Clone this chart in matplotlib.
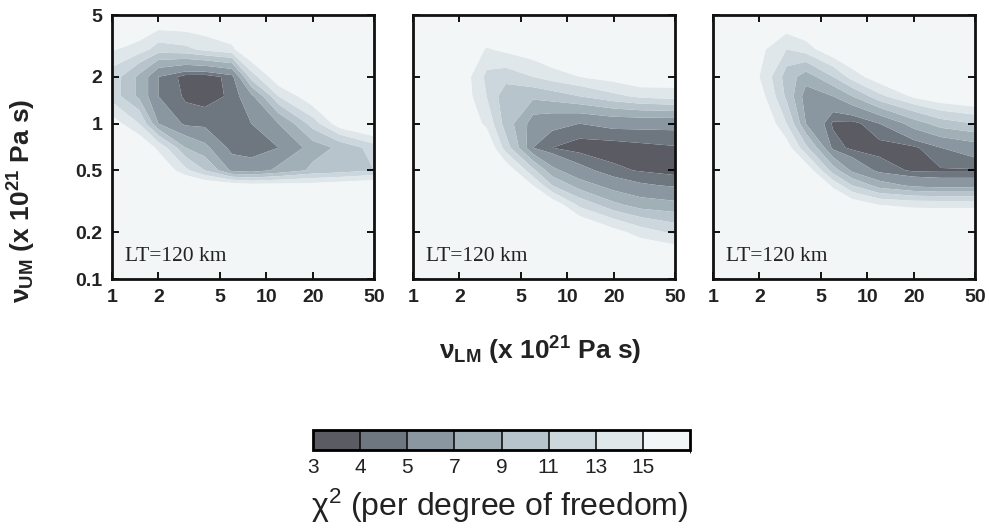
import numpy as np
import matplotlib
matplotlib.use("Agg")
import matplotlib.pyplot as plt
from matplotlib.colors import ListedColormap, BoundaryNorm

plt.rcParams['font.family'] = ['Liberation Sans', 'DejaVu Sans']
plt.rcParams['mathtext.fontset'] = 'custom'
plt.rcParams['mathtext.rm'] = 'Liberation Sans'
plt.rcParams['mathtext.bf'] = 'Liberation Sans:bold'
plt.rcParams['mathtext.it'] = 'Liberation Sans:italic'

# grid nodes (x 10^21 Pa s)
nu_lm = [1, 1.5, 2, 3, 4, 6, 8, 12, 20, 30, 50]
nu_um = [0.1, 0.2, 0.3, 0.4, 0.5, 0.7, 1.0, 1.5, 2.0, 3.0, 5.0]

# chi^2 per degree of freedom, rows = nu_um (bottom->top), cols = nu_lm
chi2_a = [
    [28, 28, 27, 26, 26, 25, 25, 25, 26, 27, 28],
    [26, 26, 25, 24, 23, 22, 22, 22, 23, 24, 25],
    [25, 24, 23, 21, 20, 19, 19, 19, 19, 20, 21],
    [24, 22, 20, 18, 17, 16.5, 16, 16, 16, 16.5, 17],
    [22, 20, 17, 13.5, 11, 6.5, 6, 7.5, 9.5, 10, 11],
    [20, 17, 14.5, 9, 7.5, 4.3, 4.1, 5, 8, 9.5, 12],
    [16, 13, 7, 4.6, 4.5, 4.4, 5, 7, 12, 16.5, 19],
    [12, 8.5, 5, 3.8, 3.6, 4.2, 6.5, 13, 17, 20, 22],
    [12, 8.5, 5, 3.5, 3.4, 4.5, 12, 17, 20, 22, 24],
    [15.2, 14, 12, 12.5, 13.5, 14.5, 18, 20, 22, 24, 25],
    [19, 19, 18, 18, 18, 19, 20, 22, 24, 25, 25],
]
chi2_b = [
    [26, 26, 25, 25, 24, 23, 22, 21, 20, 20, 20],
    [25, 25, 24, 23, 22, 21, 20, 18, 15.8, 14, 12.5],
    [24, 24, 23, 21, 19.5, 18, 16.5, 12.5, 9.5, 8, 7.5],
    [23, 23, 22, 20, 18, 15, 11, 8, 6, 5.2, 4.8],
    [22, 22, 21, 19, 16.5, 11.5, 7.5, 5.5, 4.2, 3.9, 3.6],
    [21, 21, 19, 17, 12, 5, 4.0, 3.5, 3.5, 3.7, 3.9],
    [20, 20, 17, 14.5, 10, 6, 5.5, 5.0, 5.5, 5.5, 5.5],
    [19, 19, 16.5, 13, 9.5, 9.5, 10, 11, 12.5, 13.5, 14],
    [19, 19, 16.5, 12.5, 12, 13, 14, 15, 16, 17, 16.5],
    [19, 19, 17, 14.8, 15.5, 16.5, 17.5, 18, 18.5, 19, 19],
    [20, 20, 20, 19, 19, 20, 21, 21, 22, 22, 22],
]
chi2_c = [
    [25, 24, 24, 24, 24, 23, 23, 22, 22, 21, 21],
    [24, 23, 23, 22, 22, 21, 20, 19, 18.5, 18, 18],
    [23, 22, 22, 21, 21, 18, 16.5, 15, 14.5, 14.5, 14.5],
    [22, 21, 21, 20, 19, 14.5, 11, 8, 6.5, 6, 6],
    [21, 20, 20, 19, 16.5, 10, 6.5, 4.5, 3.8, 3.9, 3.9],
    [20, 19, 19, 16, 11.5, 4.5, 3.7, 3.6, 3.8, 5, 6],
    [19, 18, 17.5, 13, 7, 3.8, 3.6, 5, 8, 10, 11],
    [18, 17, 16, 10.5, 6, 7, 9, 12.5, 15.5, 17, 18],
    [18, 17, 15, 10, 8, 11, 14, 16.5, 18, 19, 20],
    [18, 17, 15.5, 13, 14, 17, 18, 20, 21, 22, 23],
    [19, 18, 18, 18, 19, 20, 21, 22, 23, 24, 24],
]
panels = [chi2_a, chi2_b, chi2_c]
panel_label = "LT=120 km"

levels = [3, 4, 5, 7, 9, 11, 13, 15, 40]
cbar_ticks = [3, 4, 5, 7, 9, 11, 13, 15]
colors = ['#5a5b63', '#6e767f', '#8a97a0', '#a1afb7', '#b7c4cb',
          '#ccd7dd', '#dfe7eb', '#f3f6f7']
xticks = [1, 2, 5, 10, 20, 50]
yticks = [0.1, 0.2, 0.5, 1, 2, 5]

cmap = ListedColormap(colors)
norm = BoundaryNorm(levels, cmap.N)

fig = plt.figure(figsize=(9.89, 5.28), dpi=100)
W, H = 989, 528
lefts = [112, 413, 713]
for i, (data, lx) in enumerate(zip(panels, lefts)):
    ax = fig.add_axes([lx / W, 1 - 279 / H, 262 / W, 264 / H])
    ax.set_facecolor(colors[-1])
    X, Y = np.meshgrid(nu_lm, nu_um)
    cs = ax.contourf(X, Y, np.array(data, dtype=float), levels=levels,
                     cmap=cmap, norm=norm, antialiased=True)
    ax.set_xscale('log')
    ax.set_yscale('log')
    ax.set_xlim(1, 50)
    ax.set_ylim(0.1, 5)
    ax.set_xticks(xticks)
    ax.set_xticklabels([str(t) for t in xticks])
    ax.set_yticks(yticks)
    ax.set_yticklabels([('%g' % t) for t in yticks])
    ax.minorticks_off()
    ax.tick_params(direction='in', length=5, width=1.3, top=True, right=True,
                   labelsize=14, pad=7)
    for lab in ax.get_xticklabels() + ax.get_yticklabels():
        lab.set_fontweight('bold')
        lab.set_color('#222222')
    if i > 0:
        ax.set_yticklabels([])
    for sp in ax.spines.values():
        sp.set_linewidth(2.0)
        sp.set_color('#111111')
    ax.text(0.05, 0.087, panel_label, transform=ax.transAxes,
            fontsize=15.5, family='Liberation Serif', color='#222222',
            va='center', ha='left')

fig.text(540 / W, 1 - 351 / H, 'ν$_{\\mathbf{LM}}$ (x 10$^{\\mathbf{21}}$ Pa s)',
         ha='center', va='center', fontsize=19, fontweight='bold', color='#222222')
fig.text(22 / W, 1 - 201 / H, 'ν$_{\\mathbf{UM}}$ (x 10$^{\\mathbf{21}}$ Pa s)',
         ha='center', va='center', fontsize=19, fontweight='bold', color='#222222',
         rotation=90)

cax = fig.add_axes([313 / W, 1 - 450 / H, 377 / W, 20 / H])
cb = fig.colorbar(cs, cax=cax, orientation='horizontal', ticks=cbar_ticks,
                  spacing='uniform', drawedges=True)
cb.outline.set_linewidth(2.0)
cb.dividers.set_linewidth(1.2)
cb.dividers.set_color('#111111')
cax.tick_params(length=0, labelsize=15, pad=6, colors='#222222')
cax.set_xticklabels([str(t) for t in cbar_ticks])
fig.text(500 / W, 1 - 506 / H, 'χ$^2$ (per degree of freedom)', ha='center',
         va='center', fontsize=23, color='#222222')

fig.savefig('out.png', dpi=100)
